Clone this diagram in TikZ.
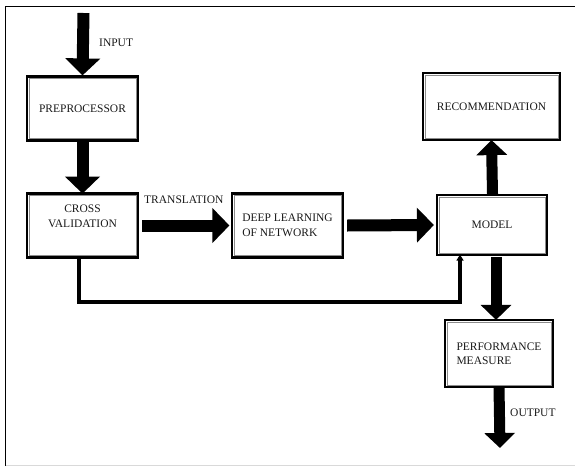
\documentclass[tikz,border=0pt]{standalone}
\usepackage{fontspec}
\setmainfont{Liberation Serif}
\usetikzlibrary{arrows.meta,calc}
\begin{document}
\begin{tikzpicture}[x=1pt,y=-1pt,
  blk/.style={draw=black, line width=2.2pt, fill=white, minimum width=111pt, minimum height=64pt,
    align=center, font=\fontsize{11.5}{14.5}\selectfont, text=black!90, inner sep=2pt},
  bigarrow/.style={line width=12pt, draw=black, -{Triangle[width=34pt,length=17pt]}},
  midarrow/.style={line width=11pt, draw=black, -{Triangle[width=30pt,length=15pt]}},
  lbl/.style={font=\fontsize{11.5}{14}\selectfont, text=black!90, inner sep=0pt},
  fb/.style={line width=3.5pt, draw=black, line join=miter},
]
\useasboundingbox (0,0) rectangle (575,466);
% frame
\draw[line width=1.5pt] (5.5,466) -- (5.5,6.5) -- (575,6.5);
\draw[black!15, line width=1pt] (5.5,465) -- (575,465);

% boxes
\node[blk] (pre) at (82.5,108.5) {PREPROCESSOR};
\node[blk] (cv) at (82.5,225.5) {CROSS\\VALIDATION\\[4pt]};
\node[blk, align=left] (dl) at (287.5,225.5) {DEEP LEARNING\\OF NETWORK};
\node[blk, minimum width=110pt, minimum height=60pt] (mod) at (492,225) {MODEL};
\node[blk, minimum width=137pt, minimum height=67pt] (rec) at (491.5,106.5) {RECOMMENDATION};
\node[blk, align=left, minimum width=108pt, minimum height=67pt] (pm) at (499,353.5) {PERFORMANCE\\MEASURE};

% inner gray lines
\foreach \n in {pre,cv,dl,mod,rec,pm}{
  \draw[black!45, line width=0.8pt] ([shift={(3.2pt,3.2pt)}]\n.south west) rectangle ([shift={(-3.2pt,-3.2pt)}]\n.north east);
}

% coordinates
\coordinate (in) at (83.5,13);
\coordinate (out) at (500,448);
\coordinate (m2) at (496,257);

% arrows
\draw[bigarrow] (in) -- (pre.north);
\draw[bigarrow] (pre.south) -- ([yshift=-1.2pt]cv.north);
\draw[bigarrow] ([xshift=3pt]cv.east) -- ([xshift=-1.5pt]dl.west);
\draw[bigarrow] ([xshift=3pt]dl.east) -- ([xshift=-2pt]mod.west);
\draw[midarrow] ([xshift=0.5pt]mod.north) -- ([yshift=1pt]rec.south);
\draw[midarrow] (m2) -- ([yshift=-1pt]m2 |- pm.north);
\draw[midarrow] ([yshift=1.5pt]pm.south) -- (out);

% feedback
\coordinate (fb1) at (79,302);
\coordinate (fb2) at (460,302);
\draw[fb, -{Triangle[width=7pt,length=6pt]}] ([xshift=-3.5pt]cv.south) -- ([xshift=-3.5pt]cv.south |- fb1) -- (fb2) -- ([yshift=1.5pt]fb2 |- mod.south);

% labels
\node[lbl, anchor=west] (linput) at (99,43) {INPUT};
\node[lbl, anchor=west] (ltrans) at (144,200) {TRANSLATION};
\node[lbl, anchor=west] (loutput) at (510,413) {OUTPUT};
\end{tikzpicture}
\end{document}
